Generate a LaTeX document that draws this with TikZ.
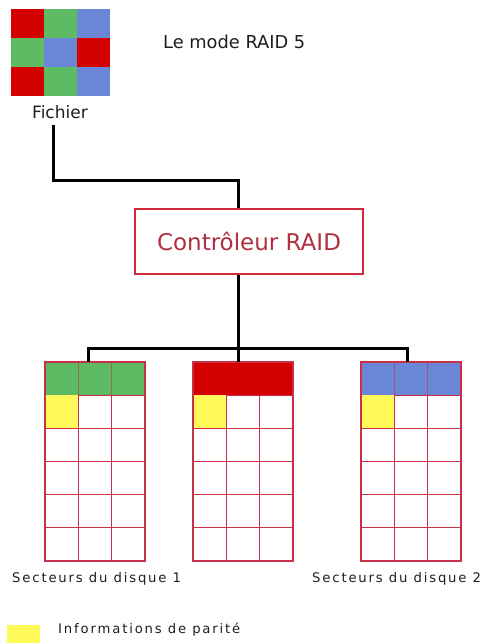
\documentclass[tikz,border=0pt]{standalone}
\usepackage{fontspec}
\setmainfont{DejaVu Sans}
\definecolor{fred}{HTML}{D40000}
\definecolor{fgreen}{HTML}{5DBB63}
\definecolor{fblue}{HTML}{6A86D6}
\definecolor{pyellow}{HTML}{FFF95A}
\definecolor{gridred}{HTML}{C8304A}
\definecolor{ctrltext}{HTML}{B03040}
\definecolor{ctrlborder}{HTML}{D02838}
\definecolor{txt}{HTML}{1E1E1E}
\tikzset{
  conn/.style={line width=3pt, black},
  gridline/.style={draw=gridred, line width=1.1pt},
  header/.style={rectangle, draw=gridred, line width=1.1pt, minimum width=100pt, minimum height=33pt, inner sep=0pt, anchor=north west},
  ctrlbox/.style={rectangle, draw=ctrlborder, line width=2.6pt, minimum width=228pt, minimum height=65pt, text=ctrltext, font=\fontsize{23}{26}\selectfont},
  smalllabel/.style={text=txt, anchor=base west, inner sep=0pt, font=\fontsize{13.2}{15}\selectfont\addfontfeature{LetterSpace=14}},
}
\begin{document}
\begin{tikzpicture}[x=1pt,y=-1pt]
\useasboundingbox (0,0) rectangle (488,643);
% Fichier grid
\foreach \r/\c/\col in {0/0/fred,0/1/fgreen,0/2/fblue,1/0/fgreen,1/1/fblue,1/2/fred,2/0/fred,2/1/fgreen,2/2/fblue}{
  \fill[\col] ({11+33*\c},{9+29*\r}) rectangle ++(33,29);
}
\node[anchor=base, inner sep=0pt, text=txt, font=\fontsize{17}{20}\selectfont] (fich) at (60,118) {Fichier};
\node[anchor=base west, inner sep=0pt, text=txt, font=\fontsize{17.8}{20}\selectfont] (title) at (163,48) {Le mode RAID 5};
% Controller
\node[ctrlbox] (ctrl) at (249,241.5) {Contrôleur RAID};
\coordinate (fstart) at (53,125);
\draw[conn] (fstart) -- (53,180) -| ([xshift=-11pt]ctrl.north);
% Disks
\foreach \x/\nm/\col/\divs in {45/d1/fgreen/1,193/d2/fred/0,361/d3/fblue/1}{
  \node[header, fill=\col] (\nm) at (\x,362) {};
  \ifnum\divs=1
    \draw[gridred!60!\col, line width=0.8pt] (\x+33.3,362) -- (\x+33.3,395) (\x+66.7,362) -- (\x+66.7,395);
  \fi
  \fill[pyellow] (\x,395) rectangle ++(33.3,33.2);
  \foreach \k in {1,2,3,4}{
    \draw[gridline] (\x,{395+33.2*\k}) -- ++(100,0);
  }
  \draw[gridline] (\x+33.3,395) -- (\x+33.3,561) (\x+66.7,395) -- (\x+66.7,561);
  \draw[gridline] (\x,362) rectangle (\x+100,561);
}
\coordinate (cbot) at ([xshift=-11pt]ctrl.south);
\coordinate (junc) at (cbot |- 0,348);
\draw[conn] (cbot) -- (junc);
\draw[conn] ([xshift=-7pt]d1.north) -- ++(0,-14) -| ([xshift=-4pt]d3.north);
\draw[conn] (junc) -- (junc |- d2.north);
% Labels
\node[smalllabel] (lab1) at (12,582) {Secteurs du disque 1};
\node[smalllabel] (lab2) at (312,582) {Secteurs du disque 2};
% Legend
\fill[pyellow] (7,625) rectangle (40,645);
\node[smalllabel] (leg) at (58,633) {Informations de parité};
\end{tikzpicture}
\end{document}
